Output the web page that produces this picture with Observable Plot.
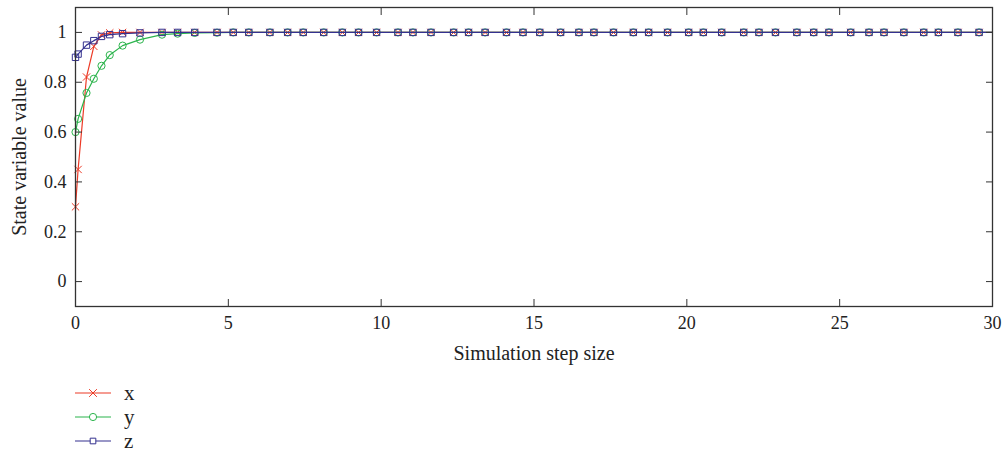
<!DOCTYPE html>
<html>
<head>
<meta charset="utf-8">
<script src="https://cdn.jsdelivr.net/npm/d3@7"></script>
<script src="https://cdn.jsdelivr.net/npm/@observablehq/plot@0.6"></script>
<style>
  html, body { margin: 0; padding: 0; background: #fff; }
  #chart svg { display: block; }
  #legend { font-family: "Liberation Serif", serif; font-size: 21px; color: #222; padding-top: 11px; }
  .row { display: flex; align-items: center; height: 24px; }
  .row svg { display: block; margin-left: 74px; }
  .row span { margin-left: 12px; line-height: 24px; }
</style>
</head>
<body>
<div id="chart"></div>
<div id="legend"></div>
<script>
// Solver time steps (x axis: "Simulation step size")
const tSteps = [0, 0.085, 0.36, 0.60, 0.85, 1.12, 1.54, 2.11, 2.83, 3.34, 3.90, 4.63, 5.16, 5.67,
  6.36, 6.94, 7.45, 8.12, 8.73, 9.26, 9.85, 10.55, 11.04, 11.63, 12.37, 12.86, 13.40, 14.10,
  14.64, 15.19, 15.87, 16.47, 16.96, 17.60, 18.25, 18.75, 19.37, 20.06, 20.54, 21.14, 21.86,
  22.36, 22.90, 23.60, 24.15, 24.65, 25.36, 25.96, 26.45, 27.10, 27.75, 28.23, 28.87, 29.56, 30];
// State variables
const xVals = [0.30, 0.45, 0.821, 0.944, 0.990, 0.998, 1.0, 1, 1, 1, 1, 1, 1, 1,
  1, 1, 1, 1, 1, 1, 1, 1, 1, 1, 1, 1, 1, 1, 1, 1, 1, 1, 1, 1, 1, 1, 1, 1, 1, 1, 1,
  1, 1, 1, 1, 1, 1, 1, 1, 1, 1, 1, 1, 1, 1];
const yVals = [0.60, 0.653, 0.757, 0.814, 0.866, 0.909, 0.947, 0.971, 0.991, 0.995, 0.998, 0.999, 1, 1,
  1, 1, 1, 1, 1, 1, 1, 1, 1, 1, 1, 1, 1, 1, 1, 1, 1, 1, 1, 1, 1, 1, 1, 1, 1, 1, 1,
  1, 1, 1, 1, 1, 1, 1, 1, 1, 1, 1, 1, 1, 1];
const zVals = [0.90, 0.913, 0.949, 0.967, 0.984, 0.991, 0.995, 0.998, 1, 1, 1, 1, 1, 1,
  1, 1, 1, 1, 1, 1, 1, 1, 1, 1, 1, 1, 1, 1, 1, 1, 1, 1, 1, 1, 1, 1, 1, 1, 1, 1, 1,
  1, 1, 1, 1, 1, 1, 1, 1, 1, 1, 1, 1, 1, 1];
const seriesNames = ["x", "y", "z"];
const seriesColors = ["#ec3a26", "#2bb44c", "#34318f"];
const seriesSymbols = ["times", "circle", "square"];
const xTicks = [0, 5, 10, 15, 20, 25, 30];
const yTicks = [0, 0.2, 0.4, 0.6, 0.8, 1];

const seriesVals = [xVals, yVals, zVals];
const lastMarkerT = 29.6; // final solver point (t=30) carries no marker

const marks = [];
seriesNames.forEach((name, i) => {
  const rows = tSteps.map((t, j) => ({t, v: seriesVals[i][j]}));
  marks.push(Plot.line(rows, {x: "t", y: "v", stroke: seriesColors[i], strokeWidth: 1.2}));
  marks.push(Plot.dot(rows.filter(d => d.t <= lastMarkerT), {
    x: "t", y: "v", stroke: seriesColors[i], strokeWidth: 1, fill: "none",
    symbol: seriesSymbols[i], r: i === 0 ? 3.4 : 3.6
  }));
});

const fmt = d3.format("~g");
const chart = Plot.plot({
  width: 1005,
  height: 370,
  marginLeft: 75,
  marginRight: 13,
  marginTop: 7,
  marginBottom: 64,
  style: {fontFamily: "Liberation Serif, serif", fontSize: "18px", color: "#222", background: "#fff"},
  x: {domain: [0, 30]},
  y: {domain: [-0.1, 1.1]},
  marks: [
    ...marks,
    Plot.frame({stroke: "#333", strokeWidth: 1.3}),
    Plot.axisX(xTicks, {anchor: "bottom", tickSize: -7, tickPadding: 17, tickFormat: fmt, label: null, stroke: "#333"}),
    Plot.axisX([], {anchor: "bottom", tickSize: 0, label: "Simulation step size", labelAnchor: "center",
      labelArrow: false, labelOffset: 53, fontSize: 20}),
    Plot.axisX(xTicks, {anchor: "top", tickSize: -7, tickFormat: () => "", label: null, stroke: "#333"}),
    Plot.axisY(yTicks, {anchor: "left", tickSize: -7, tickPadding: 16, tickFormat: fmt, label: null, stroke: "#333"}),
    Plot.axisY([], {anchor: "left", tickSize: 0, label: "State variable value", labelAnchor: "center",
      labelArrow: false, labelOffset: 64, fontSize: 20}),
    Plot.axisY(yTicks, {anchor: "right", tickSize: -7, tickFormat: () => "", label: null, stroke: "#333"})
  ]
});
document.getElementById("chart").appendChild(chart);

// Legend
const legend = d3.select("#legend");
seriesNames.forEach((name, i) => {
  const row = legend.append("div").attr("class", "row");
  const svg = row.append("svg").attr("width", 38).attr("height", 24);
  svg.append("line").attr("x1", 1).attr("x2", 37).attr("y1", 12).attr("y2", 12)
    .attr("stroke", seriesColors[i]).attr("stroke-width", 1.2);
  const sym = i === 0 ? d3.symbolTimes : i === 1 ? d3.symbolCircle : d3.symbolSquare2;
  svg.append("path").attr("transform", "translate(19,12)")
    .attr("d", d3.symbol(sym, Math.PI * 3.6 * 3.6)())
    .attr("fill", i === 0 ? "none" : "#fff").attr("stroke", seriesColors[i]).attr("stroke-width", 1);
  row.append("span").text(name);
});
</script>
</body>
</html>
